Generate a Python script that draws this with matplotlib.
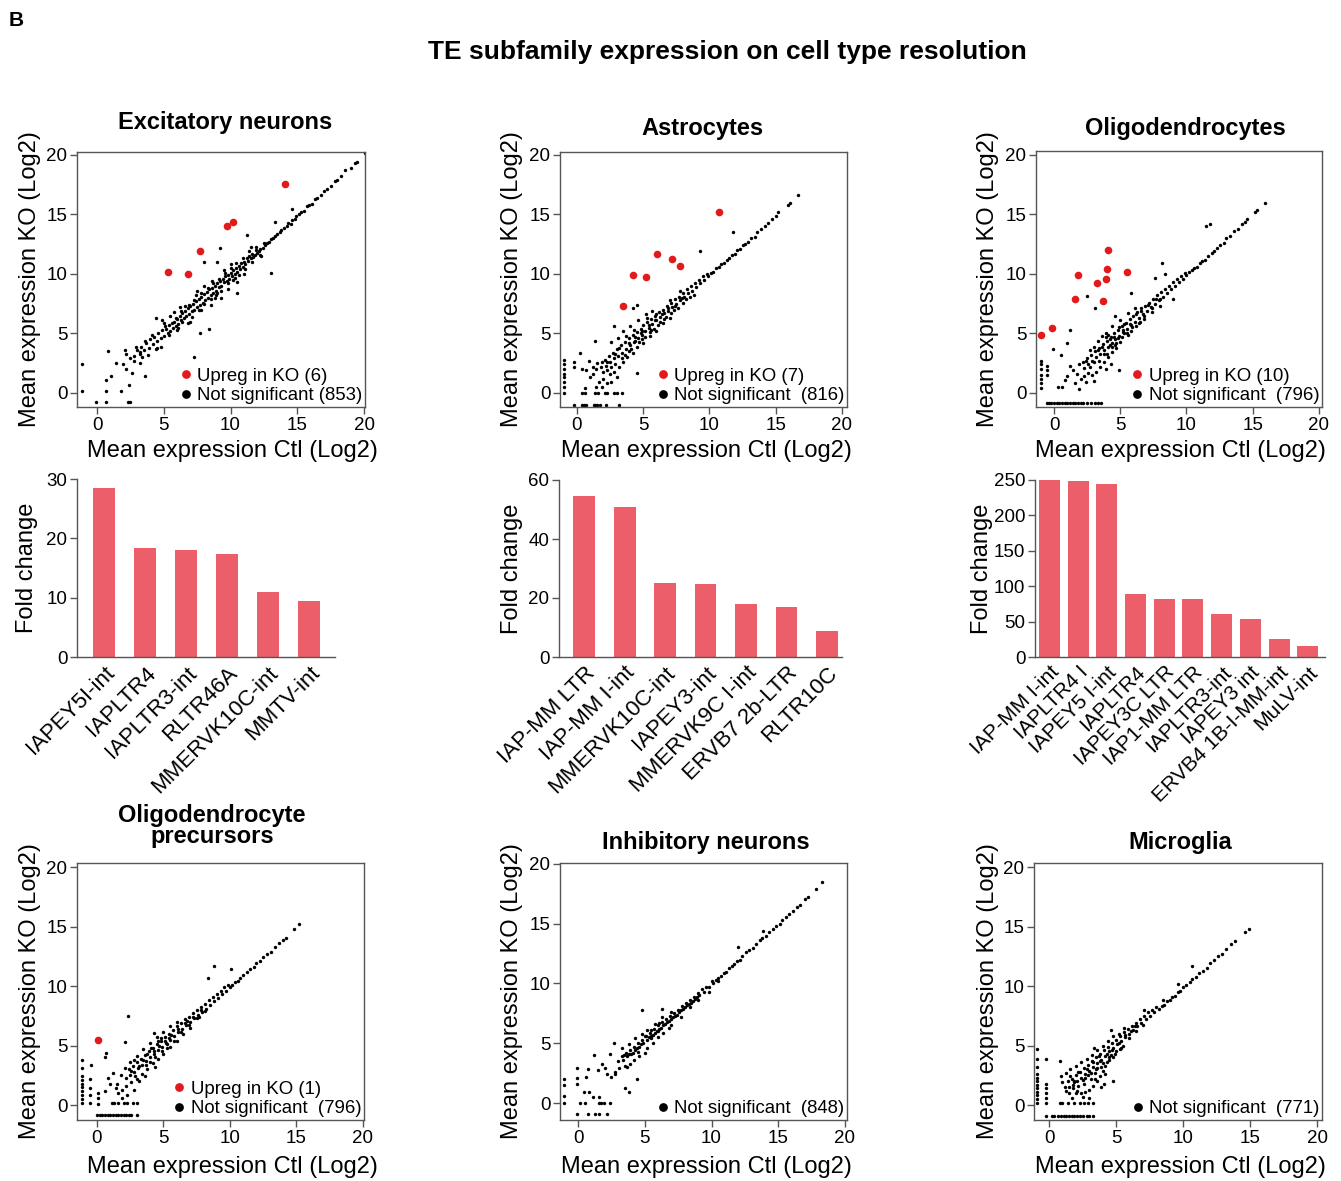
import matplotlib
matplotlib.use('Agg')
import matplotlib.pyplot as plt
from matplotlib.lines import Line2D

plt.rcParams['font.family'] = ['Liberation Sans', 'DejaVu Sans']

W, H = 1341, 1181

# ---------------- data ----------------
# Excitatory neurons (Ctl, KO) pairs
exc_up = [(5.3, 10.15), (6.8, 10.0), (7.7, 11.9), (9.75, 14.0), (10.2, 14.4), (14.1, 17.6)]
exc_ns = [
    (20.1, 20.2), (19.5, 19.4), (19.3, 19.3), (19.0, 18.9), (18.6, 18.7), (18.3, 18.2), (18.0, 17.9),
    (17.8, 17.8), (17.5, 17.4), (17.2, 17.1), (17.0, 17.0), (16.8, 16.6), (16.5, 16.4), (16.3, 16.3),
    (16.1, 15.9), (15.9, 15.8), (15.7, 15.7), (15.5, 15.3), (15.3, 15.2), (15.1, 15.0), (14.9, 14.9),
    (14.8, 14.6), (14.6, 14.5), (14.5, 14.2), (14.3, 14.3), (14.2, 14.0), (14.0, 13.9), (13.8, 13.7),
    (13.7, 13.5), (13.5, 13.4), (13.3, 13.2), (13.2, 13.0), (13.0, 12.9), (12.9, 12.7), (12.7, 12.6),
    (12.6, 12.4), (12.5, 12.6), (12.4, 12.2), (12.2, 12.1), (12.1, 11.9), (12.0, 11.8), (11.9, 12.0),
    (11.8, 11.6), (11.7, 11.4), (11.6, 11.7), (11.5, 11.3), (11.4, 11.5), (11.3, 11.1), (11.2, 11.3),
    (11.1, 10.8), (11.0, 11.0), (10.9, 10.6), (10.8, 10.9), (10.7, 10.4), (10.6, 10.7), (10.5, 10.2),
    (10.4, 10.5), (10.3, 10.0), (10.2, 10.3), (10.1, 9.8), (10.0, 10.1), (9.9, 9.6), (9.8, 9.9),
    (9.7, 9.4), (9.6, 9.8), (9.5, 9.3), (9.4, 9.6), (9.3, 9.0), (9.2, 9.4), (9.1, 8.9), (9.0, 9.2),
    (8.9, 8.6), (8.8, 9.0), (8.7, 8.4), (8.6, 8.8), (8.5, 8.2), (8.4, 8.7), (8.3, 8.0), (8.2, 8.5),
    (8.1, 7.8), (8.0, 8.3), (7.9, 7.6), (7.8, 8.1), (7.7, 7.4), (7.6, 7.9), (7.5, 7.2), (7.4, 7.7),
    (7.3, 7.0), (7.2, 7.5), (7.1, 6.9), (7.0, 7.3), (6.9, 6.6), (6.8, 7.1), (6.7, 6.5), (6.6, 6.9),
    (6.5, 6.3), (6.4, 6.7), (6.3, 6.1), (6.2, 6.5), (6.1, 5.8), (6.0, 6.2), (5.9, 5.6), (5.8, 6.0),
    (5.7, 5.5), (5.6, 5.9), (5.5, 5.2), (5.4, 5.7), (5.3, 5.0), (5.2, 5.4), (5.0, 4.8), (4.9, 5.3),
    (4.8, 4.6), (4.6, 5.0), (4.5, 4.4), (4.3, 4.7), (4.2, 4.1), (4.0, 4.5), (3.9, 3.8), (3.7, 4.2),
    (3.5, 3.6), (3.3, 3.9), (3.2, 3.3), (3.0, 3.6), (2.8, 3.1),
    (8.5, 7.4), (9.3, 8.0), (9.8, 8.7), (7.0, 6.0), (6.2, 7.2), (5.5, 6.5), (6.8, 5.9), (8.0, 9.0),
    (10.5, 9.3), (11.0, 10.0), (10.0, 10.8), (7.5, 8.6), (6.0, 5.3), (5.0, 5.9), (4.5, 3.8), (3.8, 3.2),
    (4.8, 3.9), (5.8, 6.8), (9.5, 10.3), (11.5, 12.3), (12.3, 11.5), (8.8, 8.0), (7.8, 7.0),
    (5.1, 5.6), (5.4, 4.9), (5.9, 6.3), (6.1, 5.5), (6.4, 6.0), (6.6, 7.3), (6.9, 7.4), (7.1, 6.4),
    (7.3, 7.8), (7.6, 7.0), (7.8, 8.4), (8.0, 7.5), (8.3, 8.8), (8.5, 7.9), (8.7, 9.2), (8.9, 8.2),
    (9.1, 9.6), (9.3, 8.6), (9.6, 10.1), (9.8, 9.2), (10.0, 10.5), (10.2, 9.5), (10.4, 10.9),
    (10.6, 9.9), (10.9, 11.3), (11.1, 10.4), (11.4, 11.9), (11.6, 11.0), (11.9, 12.3), (12.2, 11.6),
    (4.1, 4.9), (4.4, 3.7), (3.6, 4.4), (3.4, 3.0), (2.9, 3.9), (2.5, 2.9), (2.2, 3.3), (6.3, 6.9),
    (7.4, 8.2), (8.6, 9.4), (9.0, 8.4), (10.3, 9.7),
    (-1.1, 2.4), (-1.1, 0.2), (-0.1, -0.8), (0.7, -0.8), (0.7, 0.15), (0.7, 1.1), (0.8, 3.55),
    (1.07, 1.45), (1.4, 2.5), (1.8, 0.2), (1.95, 2.45), (2.07, 3.6), (2.17, 2.0), (2.37, 0.7),
    (2.45, -0.8), (2.3, -0.8), (2.6, 1.7), (2.75, 2.65), (3.2, 2.5), (3.6, 1.45), (3.25, 3.45),
    (4.4, 6.3), (4.85, 6.15), (7.3, 3.0), (8.4, 5.35), (7.7, 5.0), (9.2, 12.2), (8.0, 11.0),
    (9.0, 11.0), (10.5, 8.4), (11.2, 13.3), (13.0, 10.1), (13.3, 14.4), (14.6, 15.5),
]

# Astrocytes
ast_up = [(3.45, 7.27), (4.25, 9.9), (5.18, 9.76), (6.06, 11.64), (7.17, 11.24), (7.75, 10.66), (10.74, 15.2)]
ast_ns = [
    (16.7, 16.6), (16.1, 16.0), (15.9, 15.8), (15.2, 15.2), (15.0, 14.9), (14.7, 14.6), (14.4, 14.3),
    (14.2, 14.0), (13.9, 13.8), (13.6, 13.5), (13.4, 13.1), (13.1, 13.0), (12.9, 12.7), (12.7, 12.5),
    (12.5, 12.4), (12.3, 12.1), (12.1, 12.0), (11.9, 11.7), (11.7, 11.6), (11.5, 11.3), (11.3, 11.2),
    (11.1, 10.9), (10.9, 10.8), (10.7, 10.6), (10.5, 10.5), (10.3, 10.2), (10.1, 10.1), (9.9, 9.8),
    (9.8, 10.0), (9.6, 9.5), (9.5, 9.8), (9.3, 9.2), (9.2, 9.5), (9.0, 8.9), (8.9, 9.2), (8.7, 8.6),
    (8.6, 9.0), (8.4, 8.4), (8.3, 8.7), (8.1, 8.1), (8.0, 8.4), (7.8, 7.8), (7.7, 8.1), (7.5, 7.5),
    (7.4, 7.9), (7.2, 7.2), (7.1, 7.6), (6.9, 6.9), (6.8, 7.3), (6.6, 6.7), (6.5, 7.0), (6.3, 6.4),
    (6.2, 6.8), (6.0, 6.1), (5.9, 6.5), (5.7, 5.8), (5.6, 6.2), (5.4, 5.5), (5.3, 6.0), (5.1, 5.2),
    (5.0, 5.7), (4.9, 4.9), (4.8, 5.4), (4.6, 4.6), (4.5, 5.1), (4.3, 4.3), (4.2, 4.9), (4.0, 4.0),
    (3.9, 4.6), (3.7, 3.7), (3.6, 4.3), (3.4, 3.4), (3.3, 4.0), (3.1, 3.1), (3.0, 3.7), (2.8, 2.9),
    (2.7, 3.4), (2.5, 2.6), (2.4, 3.1), (2.2, 2.3), (2.1, 2.8),
    (7.0, 6.3), (6.5, 5.9), (6.0, 5.2), (5.5, 4.8), (5.0, 4.2), (4.5, 3.9), (4.2, 3.4), (3.8, 3.0),
    (3.5, 2.6), (3.2, 2.2), (2.8, 1.8), (2.5, 1.6), (2.0, 1.8), (1.8, 2.2), (1.5, 2.5), (1.4, 2.0),
    (1.2, 1.6), (2.6, 4.3), (3.1, 4.6), (3.5, 5.2), (4.0, 5.6), (4.6, 6.1), (5.2, 6.6), (5.7, 6.9),
    (4.9, 4.5), (4.4, 4.7), (3.9, 3.5), (3.4, 2.9), (2.9, 2.4), (2.3, 1.9), (2.0, 1.2), (1.7, 0.9),
    (2.6, 0.9), (3.0, 1.3), (4.5, 1.7), (5.8, 5.4), (6.3, 6.0), (6.7, 6.4), (7.3, 7.0), (8.0, 7.6),
    (8.5, 8.1), (8.8, 8.2), (7.8, 8.6), (7.0, 7.8),
    (3.2, 3.8), (3.6, 3.2), (3.9, 4.2), (4.1, 3.7), (4.4, 4.4), (4.7, 4.3), (4.9, 5.2), (5.1, 4.7),
    (5.4, 5.7), (5.6, 5.3), (5.9, 6.1), (6.1, 5.7), (6.4, 6.6), (6.6, 6.2), (6.9, 7.1), (7.1, 6.7),
    (7.4, 7.3), (7.6, 7.1), (7.9, 8.0), (8.2, 7.9), (2.9, 3.3), (2.6, 2.2), (2.3, 2.6), (1.9, 2.6),
    (4.3, 5.3), (3.7, 4.8), (5.3, 6.3), (6.0, 6.6), (4.8, 5.0), (5.5, 5.1),
    (11.75, 13.5), (9.3, 11.9), (4.5, 7.36), (4.2, 7.1), (1.38, 4.4), (2.8, 5.6),
    (-1.0, 0.0), (-1.0, 0.5), (-1.0, 0.9), (-1.0, 1.3), (-1.0, 1.6), (-1.0, 2.0), (-1.0, 2.4),
    (-1.0, 2.8), (-0.25, 2.2), (-0.25, 2.6), (0.25, 3.35), (0.4, 2.0), (0.7, 1.9), (0.9, 2.7),
    (1.0, 1.3), (1.2, 2.2), (0.6, 0.4), (-0.2, -1.0), (0.38, -1.0), (0.5, -1.0), (0.7, -1.0),
    (1.26, -1.0), (1.38, -1.0), (1.5, -1.0), (1.76, -1.0), (2.2, -1.0), (0.38, 0.0), (0.63, 0.0),
    (1.38, 0.0), (1.6, 0.0), (2.1, 0.0), (2.3, 0.0), (2.77, 0.0), (3.0, 0.0), (3.4, 0.0),
    (1.4, 0.5), (1.9, 0.5), (2.3, 0.8), (3.2, -1.0),
]

# Oligodendrocytes
oli_up = [(-1.0, 4.84), (-0.13, 5.43), (1.6, 7.9), (1.8, 9.87), (3.25, 9.2), (3.9, 9.57),
          (4.03, 10.38), (4.1, 12.0), (3.7, 7.72), (5.5, 10.2)]
oli_ns = [
    (15.9, 15.95), (15.35, 15.4), (15.2, 15.2), (14.6, 14.6), (14.4, 14.4), (14.2, 14.2), (13.9, 13.8),
    (13.6, 13.6), (13.3, 13.2), (13.0, 13.0), (12.8, 12.6), (12.5, 12.4), (12.3, 12.2), (12.1, 11.9),
    (11.9, 11.8), (11.6, 11.5), (11.4, 11.2), (11.2, 11.1), (11.0, 10.9), (10.8, 10.6), (10.6, 10.5),
    (10.4, 10.3), (10.2, 10.2), (10.0, 9.9), (9.9, 10.1), (9.7, 9.6), (9.6, 9.8), (9.4, 9.3),
    (9.3, 9.6), (9.1, 9.0), (9.0, 9.3), (8.8, 8.7), (8.7, 9.0), (8.5, 8.4), (8.4, 8.7), (8.2, 8.1),
    (8.1, 8.5), (7.9, 7.8), (7.8, 8.2), (7.6, 7.5), (7.5, 7.9), (7.3, 7.2), (7.2, 7.6), (7.0, 6.9),
    (6.9, 7.3), (6.7, 6.6), (6.6, 7.1), (6.4, 6.3), (6.3, 6.8), (6.1, 6.0), (6.0, 6.5), (5.8, 5.7),
    (5.7, 6.2), (5.5, 5.4), (5.4, 5.9), (5.2, 5.1), (5.1, 5.6), (4.9, 4.8), (4.8, 5.3), (4.6, 4.5),
    (4.5, 5.0), (4.4, 4.2), (4.3, 4.7), (4.1, 3.9), (4.0, 4.4), (3.8, 3.6), (3.7, 4.1), (3.5, 3.3),
    (3.4, 3.8), (3.2, 3.0), (3.1, 3.5), (2.9, 2.7), (2.8, 3.2), (2.6, 2.4), (2.5, 2.9), (2.3, 2.1),
    (2.2, 2.6),
    (8.0, 7.3), (7.4, 6.8), (6.8, 6.2), (6.2, 5.6), (5.6, 4.9), (5.0, 4.3), (4.7, 3.8), (4.4, 3.4),
    (4.1, 3.0), (3.8, 2.6), (3.5, 2.2), (3.2, 1.8), (2.9, 1.5), (2.6, 1.7), (2.3, 1.4), (2.0, 1.2),
    (1.7, 1.6), (1.4, 1.9), (1.2, 2.3), (1.0, 1.4), (0.8, 1.1), (1.9, 2.4), (2.7, 3.6), (3.3, 4.4),
    (3.9, 5.0), (4.4, 5.6), (5.0, 6.1), (5.6, 6.7), (6.1, 7.1), (4.6, 6.5), (3.6, 4.8), (3.0, 3.9),
    (4.2, 4.0), (4.8, 4.6), (5.3, 5.0), (3.9, 2.0), (4.3, 2.4), (3.0, 1.0), (2.4, 0.9), (1.6, 0.8),
    (1.9, 0.3), (0.6, 0.5), (0.3, 0.5), (4.9, 1.96), (5.8, 5.2), (6.5, 6.0),
    (3.3, 3.6), (3.6, 3.9), (3.9, 4.7), (4.0, 3.3), (4.2, 4.5), (4.4, 3.9), (4.5, 4.7), (4.7, 4.2),
    (4.9, 5.5), (5.1, 4.7), (5.3, 5.8), (5.5, 5.0), (5.7, 5.8), (5.9, 5.5), (6.2, 6.6), (6.4, 5.9),
    (6.6, 6.9), (6.8, 6.5), (7.1, 7.4), (7.4, 7.1), (7.7, 7.9), (8.0, 7.9), (2.7, 2.2), (2.4, 2.7),
    (3.0, 2.6), (3.4, 2.7), (4.6, 4.0), (5.2, 5.3), (4.1, 4.9), (3.8, 3.3),
    (11.5, 14.07), (11.75, 14.18), (8.15, 10.9), (8.4, 10.0), (7.6, 9.65), (5.84, 8.4), (2.5, 8.17),
    (1.18, 5.26), (-0.08, 3.7), (9.0, 7.9), (3.1, 7.1), (1.0, 4.2), (0.5, 3.2),
    (-1.0, 0.4), (-1.0, 0.8), (-1.0, 1.2), (-1.0, 1.5), (-1.0, 2.0), (-1.0, 2.4), (-1.0, 2.66),
    (-0.5, 1.5), (-0.5, 1.9), (-0.5, 2.3),
    (-0.53, -0.84), (-0.4, -0.84), (-0.2, -0.84), (0.0, -0.84), (0.2, -0.84), (0.4, -0.84),
    (0.6, -0.84), (0.8, -0.84), (1.0, -0.84), (1.2, -0.84), (1.4, -0.84), (1.6, -0.84), (1.8, -0.84),
    (2.0, -0.84), (2.2, -0.84), (2.5, -0.84), (2.8, -0.84), (3.1, -0.84), (3.3, -0.84), (3.57, -0.84),
]

# Oligodendrocyte precursors
opc_up = [(0.05, 5.45)]
opc_ns = [
    (15.2, 15.2), (14.8, 14.8), (14.2, 14.0), (14.0, 13.9), (13.7, 13.6), (13.4, 13.3), (13.1, 12.9),
    (12.8, 12.7), (12.5, 12.4), (12.3, 12.1), (12.0, 11.9), (11.8, 11.6), (11.5, 11.4), (11.3, 11.2),
    (11.0, 10.9), (10.8, 10.7), (10.6, 10.4), (10.4, 10.3), (10.2, 10.1), (10.0, 9.9), (9.9, 10.1),
    (9.7, 9.6), (9.6, 9.9), (9.4, 9.3), (9.3, 9.6), (9.1, 9.0), (9.0, 9.3), (8.8, 8.7), (8.7, 9.1),
    (8.5, 8.4), (8.4, 8.8), (8.2, 8.1), (8.1, 8.5), (7.9, 7.8), (7.8, 8.2), (7.6, 7.6), (7.5, 8.0),
    (7.3, 7.3), (7.2, 7.7), (7.0, 7.0), (6.9, 7.4), (6.7, 6.7), (6.6, 7.2), (6.4, 6.4), (6.3, 6.9),
    (6.1, 6.1), (6.0, 6.6), (5.8, 5.8), (5.7, 6.3), (5.5, 5.5), (5.4, 6.0), (5.2, 5.2), (5.1, 5.7),
    (4.9, 4.9), (4.8, 5.4), (4.6, 4.6), (4.5, 5.1), (4.3, 4.3), (4.2, 4.8), (4.0, 4.0), (3.9, 4.5),
    (3.7, 3.7), (3.6, 4.2), (3.4, 3.4), (3.3, 3.9), (3.1, 3.1), (3.0, 3.6), (2.8, 2.8), (2.7, 3.3),
    (2.5, 2.5), (2.4, 3.0),
    (7.0, 6.5), (6.5, 6.0), (6.0, 5.4), (5.5, 4.9), (5.0, 4.3), (4.6, 3.9), (4.2, 3.5), (3.8, 3.0),
    (3.4, 2.6), (3.0, 2.2), (2.6, 1.9), (2.2, 1.6), (1.9, 1.3), (1.6, 1.0), (1.5, 1.8), (1.8, 2.5),
    (2.1, 3.1), (2.5, 3.6), (3.0, 4.1), (3.5, 4.7), (4.0, 5.2), (4.5, 5.7), (5.0, 6.1), (5.5, 6.6),
    (6.0, 7.0), (3.2, 2.0), (2.8, 1.3), (2.3, 0.8), (1.9, 0.6), (1.4, 1.4), (1.0, 1.8), (0.8, 2.3),
    (1.2, 2.7), (0.6, 1.2), (3.6, 2.4), (4.4, 3.2), (4.8, 5.6), (5.3, 5.1), (6.8, 7.1), (7.7, 7.4),
    (3.2, 3.3), (3.5, 3.8), (3.8, 4.3), (4.0, 3.6), (4.3, 4.5), (4.4, 4.0), (4.7, 5.0), (4.9, 4.5),
    (5.1, 5.4), (5.3, 4.8), (5.6, 5.9), (5.8, 5.4), (6.1, 6.4), (6.3, 6.1), (6.6, 6.9), (6.9, 6.7),
    (7.2, 7.4), (7.5, 7.3), (7.8, 8.0), (8.1, 7.9), (2.6, 2.9), (2.9, 2.4), (2.2, 2.3), (3.7, 3.4),
    (4.6, 5.4), (5.4, 5.6), (2.8, 3.8), (4.1, 4.8),
    (8.8, 11.7), (10.1, 11.4), (8.37, 10.66), (2.33, 7.5), (4.28, 6.07), (2.15, 5.26), (0.7, 4.4),
    (0.6, 4.0), (-0.45, 3.36),
    (-1.13, 0.14), (-1.13, 0.5), (-1.13, 0.8), (-1.13, 1.2), (-1.13, 1.5), (-1.13, 1.8), (-1.13, 2.1),
    (-1.13, 2.4), (-1.13, 3.1), (-1.13, 3.78), (-0.5, 0.14), (-0.5, 0.8), (-0.5, 1.4), (-0.5, 2.2),
    (0.05, 0.1), (0.05, 0.6), (0.05, 1.0),
    (0.0, -0.84), (0.2, -0.84), (0.4, -0.84), (0.6, -0.84), (0.8, -0.84), (1.0, -0.84), (1.2, -0.84),
    (1.4, -0.84), (1.6, -0.84), (1.8, -0.84), (2.0, -0.84), (2.2, -0.84), (2.4, -0.84), (2.6, -0.84),
    (3.0, -0.84), (1.1, 0.15), (1.3, 0.15), (1.6, 0.15), (2.0, 0.15), (2.3, 0.15), (2.7, 0.15), (3.0, 0.15),
]

# Inhibitory neurons
inh_up = []
inh_ns = [
    (18.3, 18.5), (17.8, 17.9), (17.2, 17.2), (17.0, 17.1), (16.6, 16.6), (16.4, 16.4), (16.1, 16.1),
    (15.8, 15.8), (15.6, 15.6), (15.3, 15.3), (15.1, 15.0), (14.8, 14.8), (14.6, 14.6), (14.3, 14.3),
    (14.1, 14.0), (13.8, 13.8), (13.6, 13.6), (13.3, 13.3), (13.1, 13.0), (12.8, 12.8), (12.6, 12.6),
    (12.3, 12.3), (12.1, 12.0), (11.9, 11.9), (11.7, 11.6), (11.5, 11.5), (11.3, 11.3), (11.1, 11.0),
    (10.9, 10.9), (10.7, 10.6), (10.5, 10.5), (10.3, 10.3), (10.1, 10.0), (10.0, 10.2), (9.8, 9.7),
    (9.6, 9.7), (9.4, 9.3), (9.3, 9.5), (9.1, 9.0), (9.0, 9.2), (8.8, 8.7), (8.7, 8.9), (8.5, 8.4),
    (8.4, 8.6), (8.2, 8.2), (8.1, 8.4), (7.9, 7.9), (7.8, 8.1), (7.6, 7.6), (7.5, 7.8), (7.3, 7.3),
    (7.2, 7.5), (7.0, 7.0), (6.9, 7.3), (6.7, 6.8), (6.6, 7.0), (6.4, 6.5), (6.3, 6.8), (6.1, 6.2),
    (6.0, 6.5), (5.8, 5.9), (5.7, 6.2), (5.5, 5.6), (5.4, 5.9), (5.2, 5.3), (5.1, 5.6), (4.9, 5.0),
    (4.8, 5.3), (4.6, 4.7), (4.5, 5.0), (4.3, 4.4), (4.2, 4.7), (4.0, 4.1), (3.9, 4.4), (3.7, 3.9),
    (3.6, 4.2), (3.4, 3.6), (3.3, 3.9),
    (9.0, 8.6), (8.4, 8.0), (7.7, 7.2), (7.0, 6.5), (6.4, 5.9), (6.0, 5.5), (5.6, 5.0), (5.2, 4.6),
    (5.0, 4.2), (4.6, 3.9), (4.2, 3.6), (3.9, 3.3), (3.5, 3.1), (3.1, 2.9), (2.8, 2.6), (2.5, 2.2),
    (3.0, 3.5), (3.3, 4.6), (3.8, 4.9), (4.3, 5.4), (4.8, 5.8), (5.2, 6.1), (5.8, 6.6), (6.3, 7.2),
    (7.0, 7.6), (6.8, 6.3), (6.0, 6.0), (5.5, 5.4), (4.5, 4.3), (9.8, 9.3), (10.5, 10.2),
    (5.3, 5.5), (5.6, 5.7), (5.9, 6.0), (6.2, 6.3), (6.5, 6.6), (6.8, 6.9), (7.1, 7.2), (7.4, 7.4),
    (7.7, 7.8), (8.0, 8.0), (8.3, 8.3), (8.6, 8.5), (8.9, 8.9), (4.7, 4.9), (4.4, 4.6), (4.1, 4.2),
    (3.8, 4.1), (5.0, 5.6), (5.5, 6.1), (6.1, 6.7),
    (11.95, 13.03), (13.85, 14.35), (4.79, 7.78), (6.28, 7.9), (2.67, 5.03), (1.17, 4.05),
    (2.37, 4.14), (-0.07, 2.96), (0.75, 2.88), (-1.07, 2.04), (-1.07, 1.54), (-1.07, 0.62),
    (-1.07, 0.0), (-0.07, -0.9), (0.75, -0.9), (1.3, -0.9), (1.6, -0.9), (2.17, -0.9), (0.17, 0.0),
    (0.55, 0.0), (1.55, 0.0), (1.72, 0.0), (1.97, 0.0), (2.4, 0.0), (0.42, 0.92), (0.8, 0.92),
    (1.1, 0.5), (1.55, 0.5), (-0.07, 2.1), (-0.07, 1.6), (0.62, 2.18), (1.47, 2.74), (2.17, 2.46),
    (3.49, 1.26), (3.84, 0.92), (4.41, 1.98), (3.47, 4.0), (2.8, 2.46), (3.66, 3.0), (1.8, 3.3), (2.0, 2.9),
]

# Microglia
mic_up = []
mic_ns = [
    (14.9, 14.8), (14.6, 14.5), (13.9, 13.8), (13.6, 13.5), (13.2, 13.1), (12.9, 12.7), (12.6, 12.5),
    (12.3, 12.2), (12.0, 11.9), (11.8, 11.5), (11.5, 11.3), (11.2, 11.1), (11.0, 10.8), (10.7, 10.6),
    (10.5, 10.3), (10.2, 10.1), (10.0, 9.9), (9.8, 9.6), (9.6, 9.5), (9.4, 9.2), (9.2, 9.1), (9.0, 8.8),
    (8.8, 8.7), (8.6, 8.4), (8.4, 8.3), (8.2, 8.1), (8.0, 8.2), (7.8, 7.8), (7.7, 8.0), (7.5, 7.5),
    (7.4, 7.8), (7.2, 7.2), (7.1, 7.5), (6.9, 6.9), (6.8, 7.2), (6.6, 6.6), (6.5, 6.9), (6.3, 6.3),
    (6.2, 6.6), (6.0, 6.0), (5.9, 6.4), (5.7, 5.7), (5.6, 6.1), (5.4, 5.4), (5.3, 5.8), (5.1, 5.1),
    (5.0, 5.5), (4.8, 4.8), (4.7, 5.2), (4.5, 4.5), (4.4, 4.9), (4.2, 4.1), (4.1, 4.6), (3.9, 3.8),
    (3.8, 4.3), (3.6, 3.5), (3.5, 4.0), (3.3, 3.2), (3.2, 3.7), (3.0, 2.9), (2.9, 3.4), (2.7, 2.6),
    (2.6, 3.1), (2.4, 2.3), (2.3, 2.8), (2.1, 2.0), (2.0, 2.5), (1.8, 1.7), (1.7, 2.2), (1.5, 1.5),
    (1.4, 2.0),
    (4.5, 3.8), (4.2, 3.3), (4.0, 2.9), (3.8, 2.4), (3.6, 2.0), (3.3, 1.6), (3.0, 1.3), (2.7, 1.1),
    (2.4, 1.0), (2.1, 1.2), (1.8, 1.4), (1.5, 1.0), (1.2, 1.5), (1.0, 1.9), (0.9, 2.4), (1.3, 2.7),
    (1.6, 3.0), (2.0, 3.3), (2.4, 3.6), (2.8, 3.9), (3.2, 4.2), (3.6, 4.6), (4.0, 5.0), (4.4, 5.4),
    (4.8, 5.8), (5.2, 6.0), (5.6, 6.5), (3.1, 2.2), (2.6, 1.8), (3.4, 2.7), (3.9, 3.2), (4.6, 4.2),
    (5.0, 4.5), (5.5, 5.0), (6.0, 5.6), (6.5, 6.2), (7.0, 6.7), (2.2, 1.6), (1.9, 2.0), (2.9, 2.5),
    (3.5, 3.0), (4.3, 3.6), (4.8, 4.0), (5.3, 4.7), (3.9, 1.5), (4.1, 1.8), (4.8, 2.0), (2.5, 0.7),
    (3.0, 0.6), (1.7, 0.6),
    (2.2, 2.8), (2.5, 2.1), (2.8, 3.0), (3.1, 2.7), (3.3, 3.6), (3.6, 3.1), (3.8, 3.7), (4.0, 3.5),
    (4.3, 4.3), (4.5, 4.0), (4.7, 4.6), (4.9, 4.3), (5.2, 5.2), (5.4, 4.8), (5.7, 5.9), (6.1, 6.2),
    (6.4, 6.6), (1.9, 1.9), (1.6, 2.4), (2.7, 2.3), (3.4, 2.2), (4.2, 2.6), (3.7, 4.1), (2.0, 1.0),
    (1.3, 1.2),
    (10.7, 11.7), (9.65, 10.15), (8.48, 8.81), (7.1, 7.97), (4.66, 6.3), (3.34, 4.8), (0.8, 3.72),
    (-0.2, 3.86), (-0.87, 4.73), (-0.87, 3.83),
    (-0.87, 0.14), (-0.87, 0.5), (-0.87, 0.8), (-0.87, 1.1), (-0.87, 1.4), (-0.87, 1.7), (-0.87, 2.0),
    (-0.87, 2.3), (-0.87, 2.6), (-0.87, 3.2), (-0.2, 0.14), (-0.2, 0.6), (-0.2, 1.0), (-0.2, 1.4),
    (-0.2, 1.8),
    (-0.2, -0.9), (0.2, -0.9), (0.4, -0.9), (0.7, -0.9), (0.9, -0.9), (1.1, -0.9), (1.3, -0.9),
    (1.5, -0.9), (1.7, -0.9), (1.9, -0.9), (2.1, -0.9), (2.3, -0.9), (2.5, -0.9), (2.8, -0.9),
    (3.0, -0.9), (3.3, -0.9), (0.8, 0.15), (1.0, 0.15), (1.4, 0.15), (1.9, 0.15), (2.3, 0.15),
    (2.6, 0.15), (2.9, 0.15), (3.3, 0.15),
]

# Fold change bars
exc_fc_names = ['IAPEY5I-int', 'IAPLTR4', 'IAPLTR3-int', 'RLTR46A', 'MMERVK10C-int', 'MMTV-int']
exc_fc = [28.4, 18.4, 18.1, 17.4, 11.0, 9.5]
ast_fc_names = ['IAP-MM LTR', 'IAP-MM I-int', 'MMERVK10C-int', 'IAPEY3-int', 'MMERVK9C I-int',
                'ERVB7 2b-LTR', 'RLTR10C']
ast_fc = [54.6, 50.8, 25.0, 24.7, 17.9, 16.9, 8.7]
oli_fc_names = ['IAP-MM I-int', 'IAPLTR4 I', 'IAPEY5 I-int', 'IAPLTR4', 'IAPEY3C LTR', 'IAP1-MM LTR',
                'IAPLTR3-int', 'IAPEY3 int', 'ERVB4 1B-I-MM-int', 'MuLV-int']
oli_fc = [250.0, 248.6, 244.3, 88.7, 82.1, 82.1, 60.4, 53.3, 25.0, 15.1]

# ---------------- drawing ----------------
RED = '#E31A1C'
BARC = '#EB5E6A'
GREY = '#555555'

fig = plt.figure(figsize=(W / 100, H / 100), dpi=100)


def rect(l, t, r, b):
    return [l / W, 1 - b / H, (r - l) / W, (b - t) / H]


def ftext(x, y, s, **kw):
    fig.text(x / W, 1 - y / H, s, **kw)


ftext(9, 20, 'B', fontsize=15, fontweight='bold', va='center', ha='left')
ftext(727, 52, 'TE subfamily expression on cell type resolution', fontsize=19,
      fontweight='bold', ha='center', va='center')

# scatter panels: data, frame (px), limits, title, label positions
scatters = [
    (exc_up, exc_ns, (77, 152, 365, 407), (-1.5, 20.07), (-1.18, 20.25), 'Excitatory neurons',
     (225, 123), 30, 232, 451, 'Upreg in KO (6)', 'Not significant (853)'),
    (ast_up, ast_ns, (560, 152, 847, 407), (-1.28, 20.38), (-1.18, 20.25), 'Astrocytes',
     (702, 128), 512, 706, 451, 'Upreg in KO (7)', 'Not significant  (816)'),
    (oli_up, oli_ns, (1036, 151, 1322, 407), (-1.36, 20.23), (-1.18, 20.33), 'Oligodendrocytes',
     (1185, 128), 988, 1180, 451, 'Upreg in KO (10)', 'Not significant  (796)'),
    (opc_up, opc_ns, (77, 863, 364, 1120), (-1.5, 20.1), (-1.26, 20.34), 'Oligodendrocyte\nprecursors',
     (212, 826), 30, 232, 1167, 'Upreg in KO (1)', 'Not significant  (796)'),
    (inh_up, inh_ns, (560, 863, 847, 1120), (-1.35, 20.15), (-1.42, 20.08), 'Inhibitory neurons',
     (706, 842), 512, 706, 1167, None, 'Not significant  (848)'),
    (mic_up, mic_ns, (1034, 863, 1322, 1120), (-1.12, 20.37), (-1.26, 20.34), 'Microglia',
     (1180, 842), 988, 1180, 1167, None, 'Not significant  (771)'),
]

for up, ns, fr, xl, yl, title, tpos, ylx, xlx, xly, lab_up, lab_ns in scatters:
    ax = fig.add_axes(rect(*fr))
    ax.scatter([p[0] for p in ns], [p[1] for p in ns], s=6, c='black', linewidths=0, zorder=2)
    if up:
        ax.scatter([p[0] for p in up], [p[1] for p in up], s=30, c=RED, linewidths=0, zorder=3)
    ax.set_xlim(*xl)
    ax.set_ylim(*yl)
    ax.set_xticks([0, 5, 10, 15, 20])
    ax.set_yticks([0, 5, 10, 15, 20])
    for sp in ax.spines.values():
        sp.set_color(GREY)
        sp.set_linewidth(1)
    ax.tick_params(direction='out', length=5, width=1, color=GREY, labelsize=13.5, pad=2)
    ftext(tpos[0], tpos[1], title, fontsize=17, fontweight='bold', ha='center', va='center',
          linespacing=0.85)
    ftext(ylx, (fr[1] + fr[3]) / 2, 'Mean expression KO (Log2)', fontsize=17, rotation=90,
          ha='center', va='center')
    ftext(xlx, xly, 'Mean expression Ctl (Log2)', fontsize=17, ha='center', va='center')
    handles = []
    labels = []
    if lab_up:
        handles.append(Line2D([], [], ls='none', marker='o', ms=6.3, mfc=RED, mec='none'))
        labels.append(lab_up)
    handles.append(Line2D([], [], ls='none', marker='o', ms=6.3, mfc='black', mec='none'))
    labels.append(lab_ns)
    ax.legend(handles, labels, loc='lower right', bbox_to_anchor=(1.0, 0.0), frameon=False,
              fontsize=13.4, handlelength=0.6, handletextpad=0.3, labelspacing=0.14,
              borderpad=0.05, borderaxespad=0.1)

# bar panels
bars = [
    (exc_fc_names, exc_fc, (77, 479, 335, 657), (-0.66, 5.63), 30, [0, 10, 20, 30], 0.54, 27, 16),
    (ast_fc_names, ast_fc, (559, 480, 842, 657), (-0.62, 6.37), 60, [0, 20, 40, 60], 0.54, 512, 16),
    (oli_fc_names, oli_fc, (1035, 480, 1325, 657), (-0.5, 9.6), 250, [0, 50, 100, 150, 200, 250],
     0.73, 982, 15),
]

for names, vals, fr, xl, ytop, yt, bw, ylx, lsize in bars:
    ax = fig.add_axes(rect(*fr))
    ax.bar(range(len(vals)), vals, width=bw, color=BARC, zorder=2)
    ax.set_xlim(*xl)
    ax.set_ylim(0, ytop)
    ax.set_yticks(yt)
    ax.set_xticks(range(len(vals)))
    ax.set_xticklabels(names, rotation=45, ha='right', va='top', rotation_mode='anchor',
                       fontsize=lsize)
    ax.spines['top'].set_visible(False)
    ax.spines['right'].set_visible(False)
    for s in ('left', 'bottom'):
        ax.spines[s].set_color(GREY)
        ax.spines[s].set_linewidth(1)
    ax.tick_params(axis='y', direction='out', length=5, width=1, color=GREY, labelsize=13.5, pad=2)
    ax.tick_params(axis='x', length=0, pad=4)
    ftext(ylx, (fr[1] + fr[3]) / 2, 'Fold change', fontsize=17, rotation=90,
          ha='center', va='center')

fig.savefig('out.png', dpi=100)
